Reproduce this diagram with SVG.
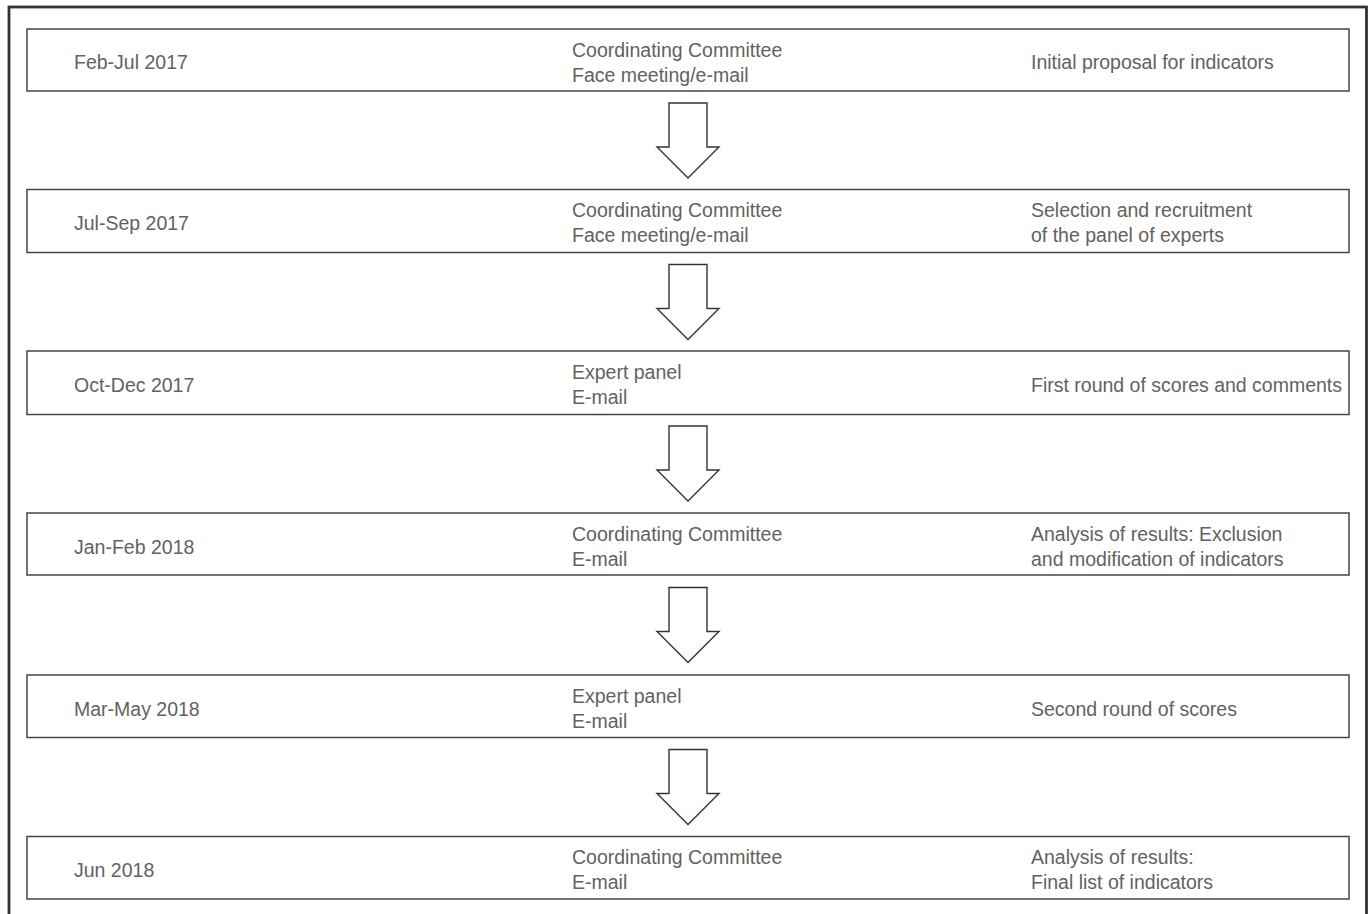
<svg xmlns="http://www.w3.org/2000/svg" width="1372" height="914" viewBox="0 0 1372 914">
<style>
.frame{fill:none;stroke:#333;stroke-width:2.8}
.box{fill:#fff;stroke:#444;stroke-width:1.5}
.arrow{fill:#fff;stroke:#333;stroke-width:1.4;stroke-linejoin:miter}
text{font-family:"Liberation Sans",Arial,sans-serif;font-size:19.5px;fill:#626262}
</style>
<rect width="1372" height="914" fill="#fff"/>
<rect class="frame" x="9" y="7" width="1357.5" height="912"/>
<g id="connectors">
<path class="arrow" d="M669,103 V147 H657 L688,178 L719,147 H707 V103 Z"/>
<path class="arrow" d="M669,264.5 V308.5 H657 L688,339.5 L719,308.5 H707 V264.5 Z"/>
<path class="arrow" d="M669,426 V470 H657 L688,501 L719,470 H707 V426 Z"/>
<path class="arrow" d="M669,587.5 V631.5 H657 L688,662.5 L719,631.5 H707 V587.5 Z"/>
<path class="arrow" d="M669,749.5 V793.5 H657 L688,824.5 L719,793.5 H707 V749.5 Z"/>
</g>
<g id="step1">
<rect class="box" x="27" y="29" width="1322" height="62"/>
<text x="74" y="69">Feb-Jul 2017</text>
<text x="572" y="56.5">Coordinating Committee</text>
<text x="572" y="81.5">Face meeting/e-mail</text>
<text x="1031" y="69">Initial proposal for indicators</text>
</g>
<g id="step2">
<rect class="box" x="27" y="189.5" width="1322" height="63"/>
<text x="74" y="230">Jul-Sep 2017</text>
<text x="572" y="217">Coordinating Committee</text>
<text x="572" y="242">Face meeting/e-mail</text>
<text x="1031" y="217">Selection and recruitment</text>
<text x="1031" y="242">of the panel of experts</text>
</g>
<g id="step3">
<rect class="box" x="27" y="351" width="1322" height="63.5"/>
<text x="74" y="392">Oct-Dec 2017</text>
<text x="572" y="378.5">Expert panel</text>
<text x="572" y="403.5">E-mail</text>
<text x="1031" y="392">First round of scores and comments</text>
</g>
<g id="step4">
<rect class="box" x="27" y="513" width="1322" height="62"/>
<text x="74" y="553.5">Jan-Feb 2018</text>
<text x="572" y="540.5">Coordinating Committee</text>
<text x="572" y="565.5">E-mail</text>
<text x="1031" y="540.5">Analysis of results: Exclusion</text>
<text x="1031" y="565.5">and modification of indicators</text>
</g>
<g id="step5">
<rect class="box" x="27" y="675" width="1322" height="62.5"/>
<text x="74" y="715.5">Mar-May 2018</text>
<text x="572" y="702.5">Expert panel</text>
<text x="572" y="727.5">E-mail</text>
<text x="1031" y="715.5">Second round of scores</text>
</g>
<g id="step6">
<rect class="box" x="27" y="836.5" width="1322" height="62.5"/>
<text x="74" y="877">Jun 2018</text>
<text x="572" y="863.5">Coordinating Committee</text>
<text x="572" y="888.5">E-mail</text>
<text x="1031" y="863.5">Analysis of results:</text>
<text x="1031" y="888.5">Final list of indicators</text>
</g>
</svg>
